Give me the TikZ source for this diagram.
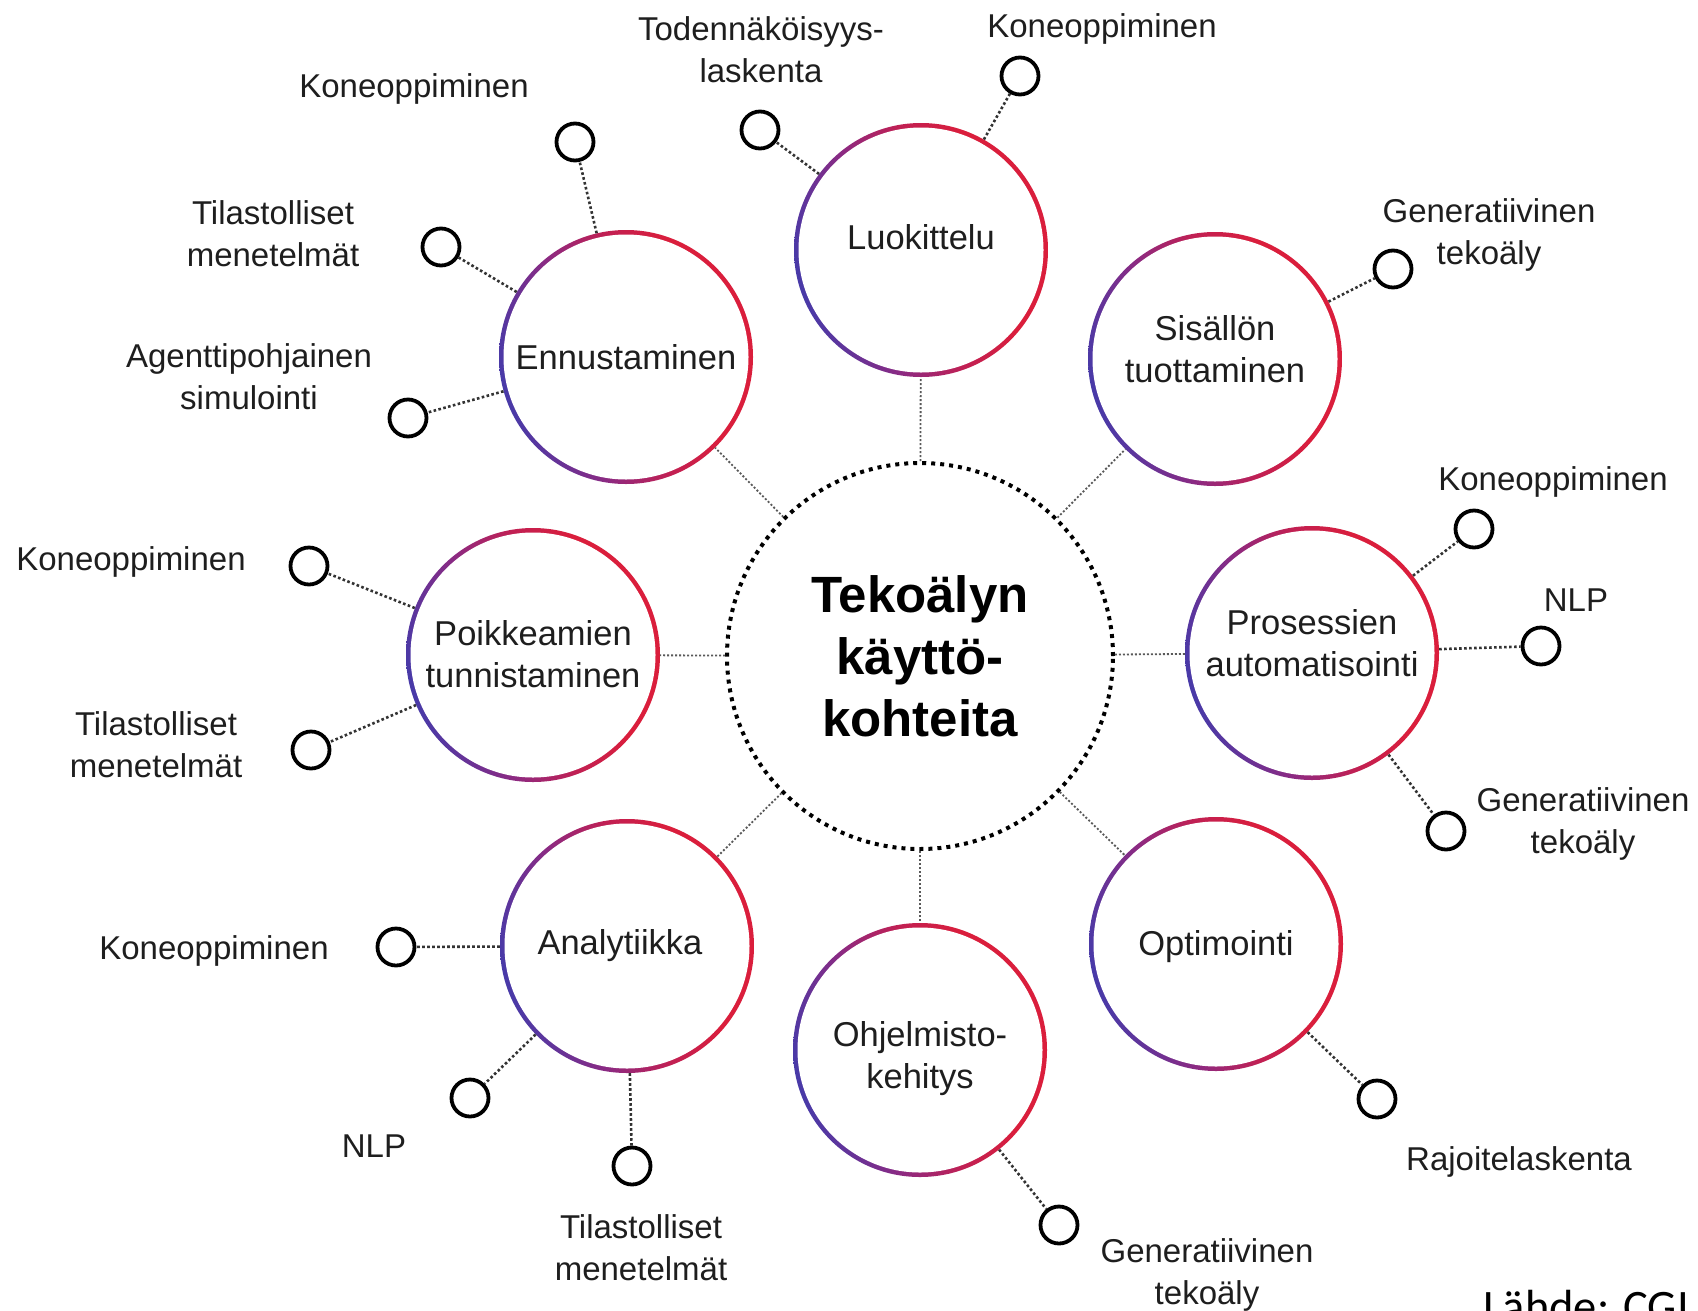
\documentclass[tikz,border=0pt]{standalone}
\usepackage{fontspec}
\setmainfont{Liberation Sans}
\newfontfamily\srcfont{Carlito}
\definecolor{rblue}{RGB}{72,58,168}
\definecolor{rpurple}{RGB}{140,42,130}
\definecolor{rcrim}{RGB}{192,32,84}
\definecolor{rred}{RGB}{218,30,60}
\definecolor{txt}{RGB}{30,30,30}
\pgfdeclarehorizontalshading{ringshade}{100bp}{color(0bp)=(rblue); color(25bp)=(rblue); color(40bp)=(rpurple); color(52bp)=(rcrim); color(64bp)=(rred); color(100bp)=(rred)}
\begin{document}
\begin{tikzpicture}[x=1pt,y=-1pt,
  topic/.style={circle, minimum size=254pt, inner sep=0pt,
    path picture={\shade[shading=ringshade, shading angle=15] (path picture bounding box.south west) rectangle (path picture bounding box.north east);
      \fill[white] (path picture bounding box.center) circle (122.5pt);}},
  ttext/.style={align=center, inner sep=0pt, font=\fontsize{34.5}{42}\selectfont, text=txt},
  hub/.style={circle, minimum size=386pt, inner sep=0pt, draw=black, line width=4pt,
    dash pattern=on 4pt off 5pt, align=center, font=\bfseries\fontsize{51}{62}\selectfont},
  leaf/.style={circle, draw=black, line width=3.8pt, minimum size=37pt, inner sep=0pt, fill=white},
  lbl/.style={align=center, font=\fontsize{33}{42}\selectfont, text=txt, inner sep=0pt},
  spoke/.style={draw=black!65, line width=1.8pt, dash pattern=on 2pt off 2pt},
  twig/.style={draw=black!80, line width=2.6pt, dash pattern=on 2.6pt off 2.4pt},
]
\useasboundingbox (0,0) rectangle (1698,1310);
\clip (0,0) rectangle (1698,1310);
\fill[white] (0,0) rectangle (1698,1310);

% hub
\node[hub] (hub) at (920,656) {Tekoälyn\\käyttö-\\kohteita};

% topics (text placed as centre labels)
\node[topic, label={[ttext, yshift=13pt]center:Luokittelu}] (luok) at (921,250) {};
\node[topic, label={[ttext, yshift=10pt]center:Sisällön\\tuottaminen}] (sis) at (1215,359) {};
\node[topic, label={[ttext, yshift=10pt]center:Prosessien\\automatisointi}] (pros) at (1312,653) {};
\node[topic, label={[ttext, yshift=-3pt]center:Optimointi}] (opt) at (1216,944) {};
\node[topic, label={[ttext, yshift=-9pt]center:Ohjelmisto-\\kehitys}] (ohj) at (920,1050) {};
\node[topic, label={[ttext, xshift=-7pt]center:Analytiikka}] (ana) at (627,946) {};
\node[topic, label={[ttext, yshift=1pt]center:Poikkeamien\\tunnistaminen}] (poik) at (533,655) {};
\node[topic, label={[ttext]center:Ennustaminen}] (enn) at (626,357) {};

% leaves
\node[leaf] (l1) at (760,130) {};
\node[leaf] (l2) at (1020,76) {};
\node[leaf] (s1) at (1393,269) {};
\node[leaf] (p1) at (1474,529) {};
\node[leaf] (p2) at (1541,646) {};
\node[leaf] (p3) at (1446,831) {};
\node[leaf] (o1) at (1377,1099) {};
\node[leaf] (h1) at (1059,1225) {};
\node[leaf] (a1) at (396,947) {};
\node[leaf] (a2) at (470,1098) {};
\node[leaf] (a3) at (632,1166) {};
\node[leaf] (k1) at (309,566) {};
\node[leaf] (k2) at (311,750) {};
\node[leaf] (e1) at (575,142) {};
\node[leaf] (e2) at (441,247) {};
\node[leaf] (e3) at (408,418) {};

% labels
\node[lbl] (tl1) at (761,50) {Todennäköisyys-\\laskenta};
\node[lbl] (tl2) at (1102,29) {Koneoppiminen};
\node[lbl] (ts1) at (1489,235) {Generatiivinen\\tekoäly};
\node[lbl] (tp1) at (1553,482) {Koneoppiminen};
\node[lbl] (tp2) at (1576,600) {NLP};
\node[lbl] (tp3) at (1583,824) {Generatiivinen\\tekoäly};
\node[lbl] (to1) at (1519,1162) {Rajoitelaskenta};
\node[lbl] (th1) at (1207,1275) {Generatiivinen\\tekoäly};
\node[lbl] (ta1) at (214,951) {Koneoppiminen};
\node[lbl] (ta2) at (374,1146) {NLP};
\node[lbl] (ta3) at (641,1248) {Tilastolliset\\menetelmät};
\node[lbl] (tk1) at (131,562) {Koneoppiminen};
\node[lbl] (tk2) at (156,745) {Tilastolliset\\menetelmät};
\node[lbl] (te1) at (414,89) {Koneoppiminen};
\node[lbl] (te2) at (273,234) {Tilastolliset\\menetelmät};
\node[lbl] (te3) at (249,377) {Agenttipohjainen\\simulointi};

% spokes hub -> topics
\foreach \t in {luok,sis,pros,opt,ohj,ana,poik,enn}
  \draw[spoke] (hub) -- (\t);

% twigs topic -> leaves
\draw[twig] (luok) -- (l1);
\draw[twig] (luok) -- (l2);
\draw[twig] (sis) -- (s1);
\draw[twig] (pros) -- (p1);
\draw[twig] (pros) -- (p2);
\draw[twig] (pros) -- (p3);
\draw[twig] (opt) -- (o1);
\draw[twig] (ohj) -- (h1);
\draw[twig] (ana) -- (a1);
\draw[twig] (ana) -- (a2);
\draw[twig] (ana) -- (a3);
\draw[twig] (poik) -- (k1);
\draw[twig] (poik) -- (k2);
\draw[twig] (enn) -- (e1);
\draw[twig] (enn) -- (e2);
\draw[twig] (enn) -- (e3);

% source
\node[anchor=base west, inner sep=0pt, font=\srcfont\fontsize{46.5}{56}\selectfont] (src) at (1483,1322) {Lähde: CGI};
\end{tikzpicture}
\end{document}
